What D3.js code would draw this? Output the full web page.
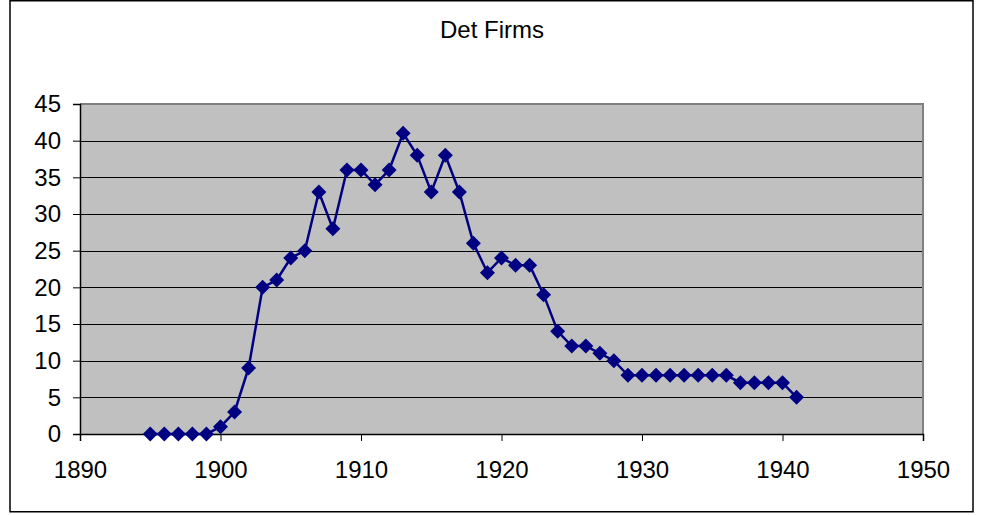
<!DOCTYPE html>
<html>
<head>
<meta charset="utf-8">
<script src="https://cdn.jsdelivr.net/npm/d3@7"></script>
<style>
  html, body { margin: 0; padding: 0; background: #fff; }
  svg { display: block; }
  text { font-family: Arial, "Liberation Sans", sans-serif; fill: #000; }
</style>
</head>
<body>
<svg id="chart" width="981" height="515"></svg>
<script>
const title = "Det Firms";
const years = [1895,1896,1897,1898,1899,1900,1901,1902,1903,1904,1905,1906,1907,1908,1909,1910,1911,1912,1913,1914,1915,1916,1917,1918,1919,1920,1921,1922,1923,1924,1925,1926,1927,1928,1929,1930,1931,1932,1933,1934,1935,1936,1937,1938,1939,1940,1941];
const firms = [0,0,0,0,0,1,3,9,20,21,24,25,33,28,36,36,34,36,41,38,33,38,33,26,22,24,23,23,19,14,12,12,11,10,8,8,8,8,8,8,8,8,7,7,7,7,5];
const xTicks = [1890,1900,1910,1920,1930,1940,1950];
const yTicks = [0,5,10,15,20,25,30,35,40,45];

const svg = d3.select("#chart");
const plot = {left: 80, right: 923, top: 104, bottom: 434};
const fontSize = "24px";

// outer border
svg.append("rect").attr("x", 10).attr("y", 0.75).attr("width", 963).attr("height", 511)
  .attr("fill", "#fff").attr("stroke", "#000").attr("stroke-width", 1.5);

const x = d3.scaleLinear().domain([1890, 1950]).range([plot.left, plot.right]);
const y = d3.scaleLinear().domain([0, 45]).range([plot.bottom, plot.top]);

// plot background
svg.append("rect").attr("x", plot.left).attr("y", plot.top)
  .attr("width", plot.right - plot.left).attr("height", plot.bottom - plot.top)
  .attr("fill", "#c0c0c0");

// gridlines
svg.append("g").selectAll("line").data(yTicks.filter(d => d > 0 && d < 45)).join("line")
  .attr("x1", plot.left).attr("x2", plot.right)
  .attr("y1", d => Math.round(y(d)) + 0.5).attr("y2", d => Math.round(y(d)) + 0.5)
  .attr("stroke", "#000").attr("stroke-width", 1);

// plot border (gray)
svg.append("path")
  .attr("d", `M${plot.left},${plot.top}H${plot.right}V${plot.bottom}`)
  .attr("fill", "none").attr("stroke", "#808080").attr("stroke-width", 2);

// y axis
const yAxis = d3.axisLeft(y).tickValues(yTicks).tickSize(7).tickPadding(12).tickFormat(d3.format("d"));
const gy = svg.append("g").attr("transform", `translate(${plot.left},0)`).call(yAxis);
gy.select(".domain").attr("stroke", "#000").attr("stroke-width", 1.5);
gy.selectAll(".tick line").attr("stroke", "#000");
gy.selectAll(".tick text").attr("font-size", fontSize).attr("font-family", "Arial, 'Liberation Sans', sans-serif").attr("fill", "#000");

// x axis
const xAxis = d3.axisBottom(x).tickValues(xTicks).tickSize(7).tickPadding(20).tickFormat(d3.format("d"));
const gx = svg.append("g").attr("transform", `translate(0,${plot.bottom})`).call(xAxis);
gx.select(".domain").attr("stroke", "#000").attr("stroke-width", 1.5);
gx.selectAll(".tick line").attr("stroke", "#000");
gx.selectAll(".tick text").attr("font-size", fontSize).attr("font-family", "Arial, 'Liberation Sans', sans-serif").attr("fill", "#000");

// line
const pts = years.map((yr, i) => [yr, firms[i]]);
svg.append("path").datum(pts)
  .attr("d", d3.line().x(d => x(d[0])).y(d => y(d[1])))
  .attr("fill", "none").attr("stroke", "#000080").attr("stroke-width", 2.5);

// markers
svg.append("g").selectAll("path").data(pts).join("path")
  .attr("transform", d => `translate(${x(d[0])},${y(d[1])})`)
  .attr("d", "M0,-7.5L7.5,0L0,7.5L-7.5,0Z")
  .attr("fill", "#000080");

// title
svg.append("text").attr("x", 492).attr("y", 38).attr("text-anchor", "middle")
  .attr("font-size", fontSize).text(title);
</script>
</body>
</html>
